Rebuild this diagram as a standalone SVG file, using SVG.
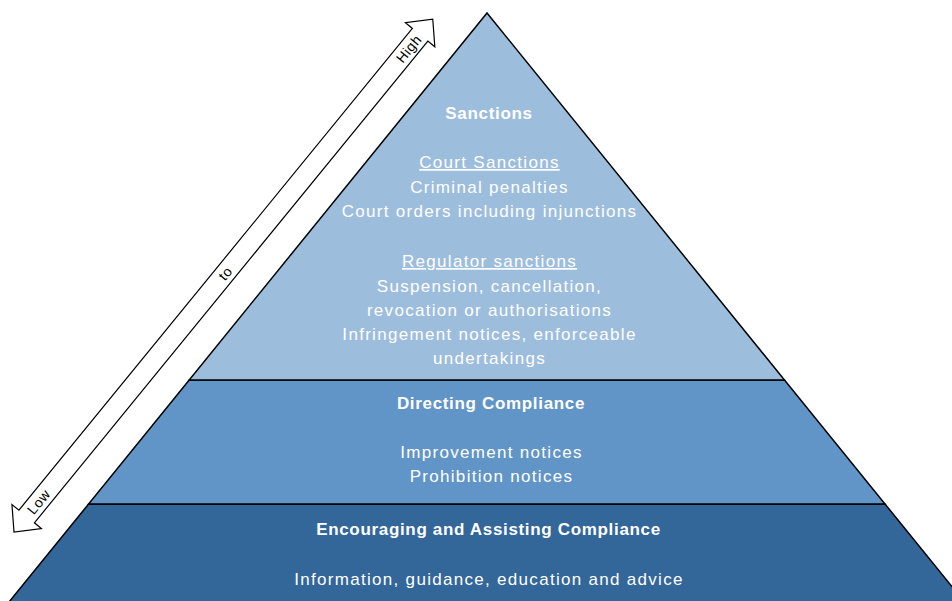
<svg xmlns="http://www.w3.org/2000/svg" width="952" height="601" viewBox="0 0 952 601">
<style>
.band{stroke:#000;stroke-width:1.5;stroke-linejoin:miter}
.t{font-family:"Liberation Sans",Arial,sans-serif;font-size:17px;letter-spacing:1.3px;fill:#fff;text-anchor:middle}
.b{font-weight:bold;letter-spacing:0.67px}
.u{text-decoration:underline}
.at{font-family:"Liberation Sans",Arial,sans-serif;font-size:14px;letter-spacing:0.6px;fill:#000;text-anchor:middle}
</style>
<rect width="952" height="601" fill="#fff"/>
<g id="band-encouraging">
<polygon class="band" points="88.6,504 885,504 971,610 2.5,610" fill="#336699"/>
<text class="t b" x="488.5" y="535">Encouraging and Assisting Compliance</text>
<text class="t" x="489" y="585">Information, guidance, education and advice</text>
</g>
<g id="band-directing">
<polygon class="band" points="189.2,380 784.5,380 885,504 88.6,504" fill="#6195c7"/>
<text class="t b" x="491" y="409">Directing Compliance</text>
<text class="t" x="491.5" y="458">Improvement notices</text>
<text class="t" x="491.5" y="482">Prohibition notices</text>
</g>
<g id="band-sanctions">
<polygon class="band" points="487,13 784.5,380 189.2,380" fill="#9dbddd"/>
<text class="t b" x="489" y="119">Sanctions</text>
<text class="t u" x="489.5" y="168">Court Sanctions</text>
<text class="t" x="489.5" y="193">Criminal penalties</text>
<text class="t" x="489.5" y="217">Court orders including injunctions</text>
<text class="t u" x="489.5" y="267">Regulator sanctions</text>
<text class="t" x="489.5" y="292">Suspension, cancellation,</text>
<text class="t" x="489.5" y="316">revocation or authorisations</text>
<text class="t" x="489.5" y="340">Infringement notices, enforceable</text>
<text class="t" x="489.5" y="364">undertakings</text>
</g>
<g id="arrow-low-high" transform="translate(14,532) rotate(-50.76)">
<path d="M0,0 L20,-19 L20,-10 L642,-10 L642,-19 L662,0 L642,19 L642,10 L20,10 L20,19 Z" fill="#fff" stroke="#000" stroke-width="1.2" stroke-linejoin="miter"/>
<text class="at" x="39" y="5">Low</text>
<text class="at" x="334" y="5">to</text>
<text class="at" x="624" y="5">High</text>
</g>
</svg>
